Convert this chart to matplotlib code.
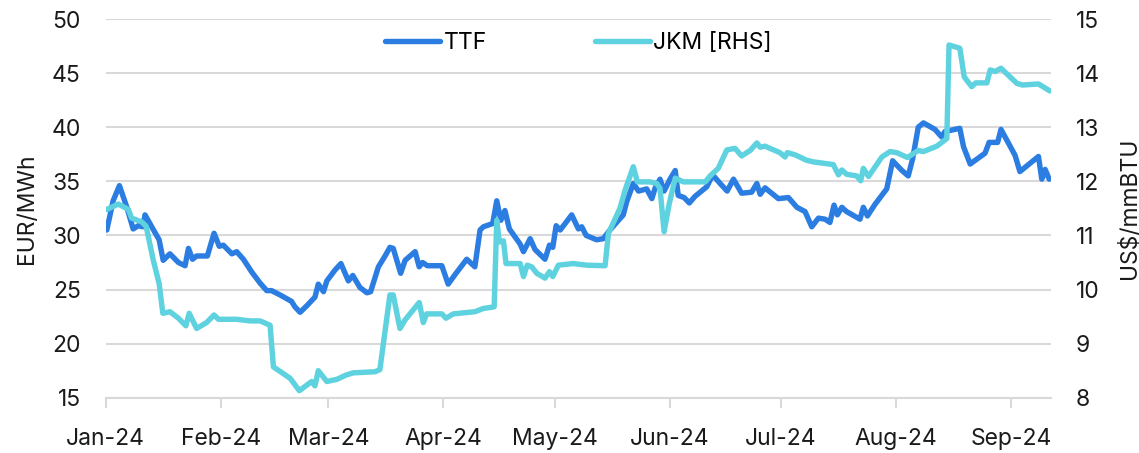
import pandas as pd
import matplotlib.pyplot as plt
import matplotlib.dates as mdates

# days since 1 Jan 2024
ttf_day = [0.3, 2.0, 3.7, 5.7, 7.4, 8.8, 10.0, 10.6, 12.4, 14.4, 15.5, 17.3, 19.6, 21.4,
           22.3, 23.4, 24.5, 27.4, 29.2, 30.6, 31.7, 34.0, 35.3, 37.1, 39.4, 41.6, 43.4,
           44.7, 47.0, 50.1, 51.0, 52.4, 54.2, 56.4, 57.3, 58.7, 59.6, 61.8, 63.4, 65.4,
           66.6, 68.5, 70.4, 71.4, 73.5, 75.3, 76.6, 77.5, 79.5, 80.7, 83.4, 84.5, 85.4,
           86.7, 90.6, 92.3, 94.2, 97.3, 99.5, 100.9, 101.8, 104.3, 105.4, 106.5, 107.6,
           108.8, 111.7, 112.6, 114.4, 115.7, 118.4, 119.6, 120.5, 121.4, 122.5, 125.6,
           127.4, 128.3, 129.5, 132.3, 134.1, 135.9, 139.5, 140.4, 142.2, 143.6, 145.8,
           147.2, 148.1, 149.4, 150.5, 152.1, 153.5, 154.3, 155.9, 157.3, 158.8, 162.0,
           163.6, 165.6, 167.5, 169.2, 171.4, 174.1, 175.5, 176.4, 177.7, 181.3, 184.0,
           186.3, 188.5, 190.3, 192.1, 193.9, 195.2, 196.3, 197.2, 198.4, 199.7, 203.3,
           204.2, 205.3, 207.4, 210.5, 212.1, 214.6, 216.3, 217.5, 219.0, 220.4, 223.5,
           225.3, 226.2, 230.2, 231.2, 233.0, 237.0, 238.1, 240.4, 241.3, 245.1, 246.4,
           251.4, 252.3, 253.2, 254.3]
ttf_val = [30.5, 33.2, 34.6, 32.6, 30.6, 30.9, 30.8, 31.9, 30.8, 29.6, 27.7, 28.3, 27.5, 27.2,
           28.8, 27.8, 28.1, 28.1, 30.2, 29.0, 29.1, 28.3, 28.5, 27.8, 26.6, 25.6, 24.9,
           24.9, 24.5, 23.9, 23.4, 22.9, 23.5, 24.3, 25.5, 24.8, 25.8, 26.8, 27.4, 25.8,
           26.3, 25.2, 24.7, 24.8, 27.1, 28.1, 28.9, 28.8, 26.5, 27.7, 28.5, 27.1, 27.5,
           27.2, 27.2, 25.5, 26.4, 27.8, 27.1, 30.5, 30.8, 31.1, 33.2, 31.4, 32.3,
           30.6, 29.2, 28.5, 29.7, 28.7, 27.8, 29.1, 28.9, 30.9, 30.5, 31.9,
           30.6, 30.8, 30.0, 29.6, 29.7, 30.5, 31.9, 33.1, 34.8, 34.1, 34.3,
           33.4, 34.4, 35.2, 34.1, 35.2, 36.0, 33.7, 33.5, 33.0, 33.6, 34.5,
           35.6, 34.8, 34.1, 35.2, 33.9, 34.0, 34.8, 33.8, 34.4, 33.4, 33.5,
           32.6, 32.2, 30.8, 31.6, 31.5, 31.2, 32.8, 31.9, 32.6, 32.2, 31.5,
           32.6, 31.8, 32.9, 34.3, 36.9, 36.0, 35.5, 37.1, 40.0, 40.4, 39.8,
           39.1, 39.6, 39.9, 38.2, 36.6, 37.6, 38.6, 38.6, 39.8, 37.4, 35.9,
           37.3, 35.2, 36.1, 35.2]

jkm_day = [0.3, 3.4, 6.1, 7.0, 9.7, 10.9, 12.8, 14.4, 15.4, 17.3, 19.6, 21.6, 22.5, 24.5,
           27.2, 29.2, 30.4, 35.3, 38.9, 41.6, 44.3, 45.2, 49.7, 52.2, 55.5, 56.4, 57.3,
           59.6, 62.3, 64.8, 66.7, 72.6, 73.9, 76.6, 77.5, 79.3, 80.7, 84.5, 85.6, 86.5,
           90.6, 91.7, 93.7, 99.5, 101.8, 104.7, 105.4, 106.1, 107.2, 107.9, 111.7, 112.6,
           113.6, 114.8, 116.2, 118.4, 119.6, 120.5, 122.0, 126.0, 129.6, 134.6, 135.5,
           138.6, 140.0, 142.2, 143.3, 146.7, 148.5, 149.4, 150.5, 151.9, 153.5, 155.7,
           161.6, 162.9, 165.1, 167.4, 169.6, 171.4, 173.7, 175.5, 176.4, 177.7, 181.7,
           183.1, 183.7, 185.8, 188.9, 190.7, 193.9, 196.1, 197.5, 198.4, 199.7, 202.4,
           203.5, 204.2, 205.6, 209.2, 211.4, 213.2, 216.1, 219.0, 220.4, 224.0, 226.7,
           227.3, 230.2, 231.4, 233.4, 234.5, 237.5, 238.4, 239.7, 241.3, 245.6, 247.1,
           251.4, 254.5]
jkm_val = [11.48, 11.58, 11.48, 11.32, 11.25, 11.17, 10.55, 10.11, 9.56, 9.59, 9.47, 9.33, 9.56, 9.28,
           9.39, 9.53, 9.45, 9.45, 9.42, 9.42, 9.34, 8.57, 8.36, 8.13, 8.30, 8.22, 8.50,
           8.30, 8.34, 8.42, 8.46, 8.48, 8.52, 9.90, 9.90, 9.28, 9.44, 9.76, 9.39, 9.55,
           9.55, 9.47, 9.55, 9.59, 9.65, 9.68, 11.28, 10.88, 10.90, 10.48, 10.48, 10.24,
           10.45, 10.42, 10.30, 10.21, 10.33, 10.24, 10.45, 10.48, 10.45, 10.44, 11.04,
           11.50, 11.84, 12.27, 11.99, 11.99, 11.96, 11.87, 11.07, 11.59, 12.06, 11.99,
           11.99, 12.10, 12.24, 12.58, 12.61, 12.47, 12.57, 12.71, 12.63, 12.65, 12.53,
           12.45, 12.53, 12.49, 12.39, 12.36, 12.33, 12.31, 12.12, 12.21, 12.13, 12.10,
           12.01, 12.24, 12.09, 12.45, 12.55, 12.53, 12.44, 12.57, 12.55, 12.65, 12.79,
           14.52, 14.46, 13.93, 13.75, 13.82, 13.82, 14.06, 14.03, 14.09, 13.81, 13.78,
           13.80, 13.67]

start = pd.Timestamp('2024-01-01')
ttf_dates = start + pd.to_timedelta(ttf_day, unit='D')
jkm_dates = start + pd.to_timedelta(jkm_day, unit='D')

plt.rcParams['font.family'] = ['Inter', 'DejaVu Sans']
plt.rcParams['font.size'] = 16.5
txt = '#1a1a1a'
grid_c = '#d9d9d9'

fig = plt.figure(figsize=(11.39, 4.53), dpi=100)
ax = fig.add_axes([0.0928, 0.122, 0.830, 0.836])
ax2 = ax.twinx()

l1, = ax.plot(ttf_dates, ttf_val, color='#2b7de1', lw=3.9, solid_joinstyle='round',
              solid_capstyle='round', label='TTF')
l2, = ax2.plot(jkm_dates, jkm_val, color='#5fd2df', lw=3.9, solid_joinstyle='round',
               solid_capstyle='round', label='JKM [RHS]')

ax.set_xlim(start, start + pd.Timedelta(days=254.8))
ax.set_ylim(15, 50)
ax2.set_ylim(8, 15)
ax.set_yticks(range(15, 51, 5))
ax2.set_yticks(range(8, 16))

ax.xaxis.set_major_locator(mdates.MonthLocator())
ax.xaxis.set_major_formatter(mdates.DateFormatter('%b-%y'))

ax.grid(axis='y', color=grid_c, lw=1.5)
ax.set_axisbelow(True)
for a in (ax, ax2):
    for s in a.spines.values():
        s.set_visible(False)
ax.spines['bottom'].set_visible(True)
ax.spines['bottom'].set_color(grid_c)
ax.spines['bottom'].set_linewidth(1.5)

ax.tick_params(axis='x', colors=grid_c, length=7, width=1.5, pad=14.5, labelcolor=txt)
ax.tick_params(axis='y', length=0, pad=18, labelcolor=txt)
ax2.tick_params(axis='y', length=0, pad=18, labelcolor=txt)

ax.set_ylabel('EUR/MWh', color=txt)
ax.yaxis.set_label_coords(-0.072, 0.5)
ax2.set_ylabel('US$/mmBTU', color=txt, rotation=90)
ax2.yaxis.set_label_coords(1.071, 0.5)

ax.legend([l1, l2], ['TTF', 'JKM [RHS]'], loc='upper center', bbox_to_anchor=(0.5, 1.02),
          ncol=2, frameon=False, handlelength=2.4, handletextpad=0.15, columnspacing=4.7)

fig.savefig('out.png', dpi=100)
